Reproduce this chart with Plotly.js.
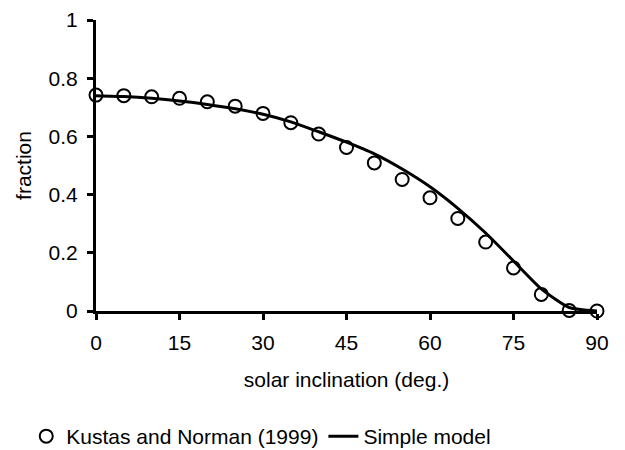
<!DOCTYPE html>
<html>
<head>
<meta charset="utf-8">
<script src="https://cdn.plot.ly/plotly-3.0.1.min.js"></script>
<style>html,body{margin:0;padding:0;background:#fff;}#chart{width:625px;height:450px;}</style>
</head>
<body>
<div id="chart"></div>
<script>
// Solar inclination (degrees)
var angles = [0, 5, 10, 15, 20, 25, 30, 35, 40, 45, 50, 55, 60, 65, 70, 75, 80, 85, 90];
// Kustas and Norman (1999) points
var kustasValues = [0.742, 0.740, 0.736, 0.731, 0.719, 0.704, 0.679, 0.647, 0.608, 0.562, 0.509, 0.452, 0.389, 0.318, 0.237, 0.148, 0.057, 0.002, 0.0];
// Simple model curve
var modelValues = [0.740, 0.737, 0.731, 0.722, 0.710, 0.695, 0.676, 0.650, 0.616, 0.580, 0.540, 0.488, 0.427, 0.353, 0.268, 0.172, 0.076, 0.012, 0.0];
var xTicks = [0, 15, 30, 45, 60, 75, 90];
var yTicks = [0, 0.2, 0.4, 0.6, 0.8, 1];
var yTickLabels = ['0', '0.2', '0.4', '0.6', '0.8', '1'];

var font = {family: 'Liberation Sans, Arial, sans-serif', size: 21, color: '#000'};

var traces = [
  {
    x: angles, y: modelValues, type: 'scatter', mode: 'lines',
    name: 'Simple model',
    line: {color: '#000', width: 3, shape: 'spline', smoothing: 0.6},
    legendrank: 2, cliponaxis: false
  },
  {
    x: angles, y: kustasValues, type: 'scatter', mode: 'markers',
    name: 'Kustas and Norman (1999)',
    marker: {symbol: 'circle-open', size: 13, color: '#000', line: {width: 2, color: '#000'}},
    legendrank: 1, cliponaxis: false
  }
];

var layout = {
  width: 625, height: 450,
  margin: {l: 96, r: 28, t: 20, b: 139},
  paper_bgcolor: '#fff', plot_bgcolor: '#fff',
  font: font,
  showlegend: true,
  legend: {
    orientation: 'h', xref: 'container', x: 0.042, xanchor: 'left',
    yref: 'container', y: 0.03, yanchor: 'middle',
    font: font, itemwidth: 30, tracegroupgap: 0
  },
  xaxis: {
    range: [0, 90], tickvals: xTicks, ticktext: xTicks.map(String),
    showgrid: false, zeroline: false,
    showline: true, linecolor: '#000', linewidth: 3,
    ticks: 'outside', ticklen: 6, tickwidth: 3, tickcolor: '#000',
    tickfont: font, ticklabelstandoff: 5,
    title: {text: 'solar inclination (deg.)', font: font, standoff: 20}
  },
  yaxis: {
    range: [0, 1], tickvals: yTicks, ticktext: yTickLabels,
    showgrid: false, zeroline: false,
    showline: true, linecolor: '#000', linewidth: 3,
    ticks: 'outside', ticklen: 6, tickwidth: 3, tickcolor: '#000',
    tickfont: font, ticklabelstandoff: 5,
    title: {text: 'fraction', font: font, standoff: 12}
  }
};

Plotly.newPlot('chart', traces, layout, {displayModeBar: false, staticPlot: true});
</script>
</body>
</html>
